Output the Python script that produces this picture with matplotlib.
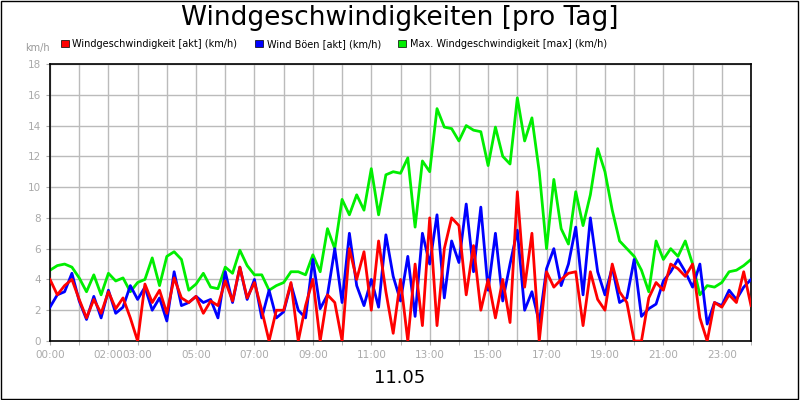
import matplotlib.pyplot as plt
import numpy as np
from matplotlib.patches import Rectangle

# values every 15 minutes, 00:00 .. 24:00
hours = np.arange(97) * 0.25

wind_akt = [4.0, 3.0, 3.6, 4.0, 2.7, 1.5, 2.7, 1.8, 3.2, 2.1, 2.8, 1.5,
            0.0, 3.7, 2.5, 3.3, 1.8, 4.1, 2.8, 2.5, 2.9, 1.8, 2.6, 2.3,
            3.9, 2.6, 4.8, 2.8, 3.8, 2.0, 0.0, 2.0, 2.0, 3.8, 0.0, 2.3,
            4.0, 0.0, 3.0, 2.5, 0.0, 6.0, 4.0, 5.8, 2.0, 6.5, 3.2, 0.5,
            4.0, 0.0, 5.0, 1.0, 8.0, 1.0, 6.0, 8.0, 7.5, 3.0, 6.2, 2.0,
            4.0, 1.5, 4.0, 1.2, 9.7, 3.5, 7.0, 0.0, 4.5, 3.5, 4.0, 4.4,
            4.5, 1.0, 4.5, 2.7, 2.0, 5.0, 3.2, 2.5, 0.0, 0.0, 2.8, 3.8,
            3.3, 5.0, 4.7, 4.2, 5.0, 1.5, 0.0, 2.5, 2.2, 3.0, 2.5, 4.5, 2.3]
boeen_akt = [2.2, 3.0, 3.2, 4.4, 2.6, 1.4, 2.9, 1.5, 3.3, 1.8, 2.2, 3.6,
             2.7, 3.5, 2.0, 2.8, 1.3, 4.5, 2.3, 2.5, 2.9, 2.5, 2.7, 1.5,
             4.5, 2.5, 4.8, 2.7, 4.0, 1.5, 3.3, 1.5, 1.9, 3.7, 2.0, 1.5,
             5.3, 2.1, 3.0, 6.0, 2.5, 7.0, 3.6, 2.3, 4.0, 2.2, 6.9, 4.2,
             2.6, 5.5, 1.6, 7.0, 5.0, 8.2, 2.8, 6.5, 5.1, 8.9, 4.5, 8.7,
             3.3, 7.0, 2.6, 5.0, 7.2, 2.0, 3.2, 1.2, 4.7, 6.0, 3.6, 5.0,
             7.4, 3.0, 8.0, 4.5, 3.0, 4.8, 2.5, 2.8, 5.3, 1.6, 2.1, 2.4,
             3.9, 4.5, 5.3, 4.5, 3.5, 5.0, 1.1, 2.5, 2.3, 3.3, 2.7, 3.5, 4.0]
wind_max = [4.6, 4.9, 5.0, 4.8, 4.1, 3.2, 4.3, 3.0, 4.4, 3.9, 4.1, 3.2,
            3.8, 4.0, 5.4, 3.6, 5.5, 5.8, 5.3, 3.3, 3.7, 4.4, 3.5, 3.4,
            4.8, 4.4, 5.9, 4.9, 4.3, 4.3, 3.3, 3.6, 3.8, 4.5, 4.5, 4.3,
            5.6, 4.5, 7.3, 6.0, 9.2, 8.2, 9.5, 8.5, 11.2, 8.2, 10.8, 11.0,
            10.9, 11.9, 7.4, 11.7, 11.0, 15.1, 13.9, 13.8, 13.0, 14.0, 13.7, 13.6,
            11.4, 13.9, 12.0, 11.5, 15.8, 13.0, 14.5, 11.0, 6.0, 10.5, 7.3, 6.3,
            9.7, 7.5, 9.5, 12.5, 11.0, 8.5, 6.5, 6.0, 5.5, 4.6, 3.2, 6.5,
            5.3, 6.0, 5.5, 6.5, 5.0, 3.0, 3.6, 3.5, 3.8, 4.5, 4.6, 4.9, 5.3]

tick_hours = [0, 2, 3, 5, 7, 9, 11, 13, 15, 17, 19, 21, 23]
tick_labels = ['%02d:00' % h for h in tick_hours]

fig = plt.figure(figsize=(8, 4), dpi=100)
ax = fig.add_axes([50 / 800, 59 / 400, 701 / 800, 277 / 400])

ax.plot(hours, wind_max, color='#00ee00', lw=2, zorder=2)
ax.plot(hours, boeen_akt, color='#0000ff', lw=2, zorder=3)
ax.plot(hours, wind_akt, color='#ff0000', lw=2, zorder=4)

ax.set_xlim(0, 24)
ax.set_ylim(0, 18)
ax.set_xticks(tick_hours)
ax.set_xticklabels(tick_labels)
ax.set_xticks(range(25), minor=True)
ax.set_yticks(range(0, 19, 2))
ax.grid(True, which='both', color='#bbbbbb', lw=1)
ax.set_axisbelow(True)
ax.tick_params(colors='#aaaaaa', labelsize=7.5, length=3, which='both')
for s in ax.spines.values():
    s.set_linewidth(1.2)

fig.text(0.5, 0.955, 'Windgeschwindigkeiten [pro Tag]', ha='center', va='center', fontsize=19)
fig.text(25 / 800, 1 - 48 / 400, 'km/h', fontsize=7, color='#999999', va='center')
fig.text(0.5, 1 - 378 / 400, '11.05', ha='center', va='center', fontsize=13)

names = ['Windgeschwindigkeit [akt] (km/h)', 'Wind Böen [akt] (km/h)',
         'Max. Windgeschwindigkeit [max] (km/h)']
colors = ['#ff0000', '#0000ff', '#00ee00']
handles = [Rectangle((0, 0), 1, 1, fc=c, ec='black', lw=0.5) for c in colors]
fig.legend(handles=handles, labels=names, loc='center left',
           bbox_to_anchor=(52 / 800, 1 - 44 / 400), ncol=3, frameon=False, fontsize=7,
           handlelength=0.8, handleheight=0.8, columnspacing=1.8, handletextpad=0.4)

fig.patches.append(Rectangle((0.001, 0.002), 0.997, 0.996, transform=fig.transFigure,
                             fill=False, ec='black', lw=1))

fig.savefig('out.png', dpi=100)
